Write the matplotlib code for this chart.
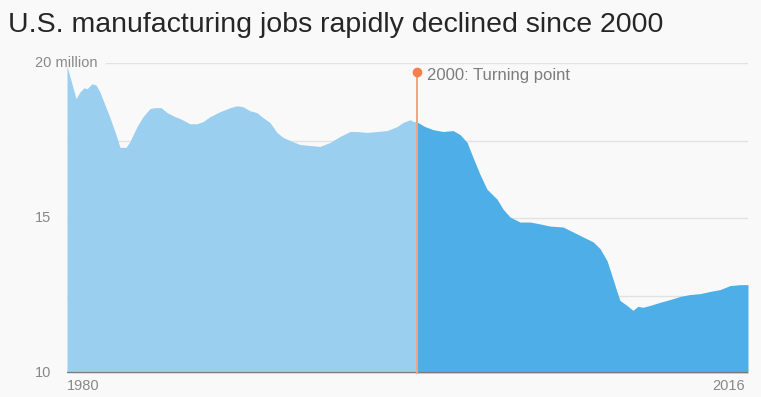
import numpy as np
import matplotlib
matplotlib.use("Agg")
import matplotlib.pyplot as plt

# U.S. manufacturing employment, millions
years = [
    1980.00, 1980.48, 1980.69, 1980.90, 1981.06, 1981.32, 1981.53, 1981.74, 1981.96,
    1982.27, 1982.59, 1982.80, 1983.12, 1983.33, 1983.70, 1984.02, 1984.39, 1984.65,
    1984.97, 1985.29, 1985.71, 1985.97, 1986.50, 1986.87, 1987.19, 1987.56, 1988.09,
    1988.62, 1988.99, 1989.30, 1989.67, 1990.04, 1990.36, 1990.73, 1991.10, 1991.42,
    1991.79, 1992.32, 1992.85, 1993.38, 1993.91, 1994.43, 1994.96, 1995.33, 1995.86,
    1996.39, 1996.92, 1997.45, 1997.76, 1998.13, 1998.34, 1998.50, 1998.55, 1998.92,
    1999.35, 1999.88, 2000.41, 2000.78, 2001.15, 2001.46, 2001.83, 2002.20, 2002.73,
    2003.05, 2003.42, 2003.95, 2004.48, 2005.00, 2005.53, 2006.22, 2006.75, 2007.28,
    2007.81, 2008.18, 2008.55, 2008.86, 2009.07, 2009.23, 2009.60, 2009.92, 2010.18,
    2010.45, 2010.82, 2011.35, 2011.88, 2012.41, 2012.93, 2013.46, 2013.99, 2014.52,
    2015.05, 2015.58, 2016.00,
]
jobs = [
    19.90, 18.85, 19.07, 19.20, 19.17, 19.33, 19.29, 19.07, 18.72,
    18.24, 17.69, 17.28, 17.28, 17.47, 17.95, 18.27, 18.53, 18.56,
    18.56, 18.40, 18.27, 18.21, 18.04, 18.04, 18.11, 18.27, 18.43,
    18.56, 18.62, 18.59, 18.46, 18.40, 18.24, 18.08, 17.76, 17.60,
    17.50, 17.37, 17.34, 17.31, 17.44, 17.63, 17.79, 17.79, 17.76,
    17.79, 17.82, 17.95, 18.08, 18.17, 18.11, 18.11, 18.08, 17.95,
    17.85, 17.79, 17.82, 17.69, 17.44, 16.96, 16.41, 15.93, 15.61,
    15.29, 15.03, 14.87, 14.87, 14.81, 14.74, 14.71, 14.55, 14.39,
    14.23, 14.01, 13.62, 13.04, 12.63, 12.34, 12.18, 12.02, 12.15,
    12.12, 12.18, 12.28, 12.37, 12.47, 12.53, 12.56, 12.63, 12.69,
    12.82, 12.85, 12.85,
]

turning_x = 1998.5          # where the marker sits on the chart
turning_label = "2000: Turning point"
y_ticks = [10, 15, 20]
y_tick_labels = ["10", "15", "20 million"]
grid_levels = [12.5, 15, 17.5, 20]
x_labels = ["1980", "2016"]

LIGHT = "#9bcfef"
DARK = "#4daee8"
ORANGE = "#f4804c"
BG = "#f9f9f9"
GRAY = "#888888"

plt.rcParams["font.family"] = ["Liberation Sans", "DejaVu Sans"]

years = np.array(years)
jobs = np.array(jobs)

W, H = 761, 397
fig = plt.figure(figsize=(W / 100, H / 100), dpi=100, facecolor=BG)
ax = fig.add_axes([67 / W, (H - 373) / H, 681 / W, 310 / H])
ax.set_facecolor(BG)
ax.set_xlim(1980, 2016)
ax.set_ylim(10, 20)

for g in grid_levels:
    xmin = 0.057 if g == 20 else 0
    ax.axhline(g, xmin=xmin, xmax=1, color="#e2e2e2", lw=1, zorder=0)

before = years <= turning_x
after = years >= turning_x
ax.fill_between(years[before], 10, jobs[before], color=LIGHT, lw=0, zorder=1)
ax.fill_between(years[after], 10, jobs[after], color=DARK, lw=0, zorder=1)

ax.axhline(10, color="#7a7a7a", lw=1.6, zorder=3)

ax.plot([turning_x, turning_x], [10, 19.71], color="#f5a27c", lw=1.4,
        zorder=4, clip_on=False)
ax.plot([turning_x], [19.71], "o", color=ORANGE, ms=7, mec="none",
        zorder=5, clip_on=False)
ax.text(turning_x + 0.55, 19.6, turning_label, color="#7d7d7d",
        fontsize=12, va="center", ha="left")

for spine in ax.spines.values():
    spine.set_visible(False)
ax.set_xticks([])
ax.set_yticks([])

ytrans = ax.get_yaxis_transform()
for val, lab in zip(y_ticks, y_tick_labels):
    ax.text(-0.047, val, lab, transform=ytrans, color=GRAY, fontsize=10.5,
            ha="left", va="center", clip_on=False)

ax.text(0, -0.02, x_labels[0], transform=ax.transAxes, color=GRAY,
        fontsize=10.5, ha="left", va="top")
ax.text(0.995, -0.02, x_labels[1], transform=ax.transAxes, color=GRAY,
        fontsize=10.5, ha="right", va="top")

fig.text(8 / W, 1 - 25 / H, "U.S. manufacturing jobs rapidly declined since 2000",
         fontsize=20.5, color="#262626", ha="left", va="center")

fig.savefig("out.png", dpi=100, facecolor=BG)
